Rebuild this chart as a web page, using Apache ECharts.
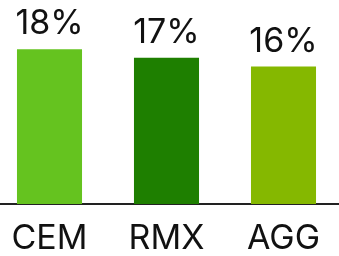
<!DOCTYPE html>
<html>
<head>
  <meta charset="utf-8">
  <script src="https://cdn.jsdelivr.net/npm/echarts@6/dist/echarts.min.js"></script>
  <style>
    html, body { margin: 0; padding: 0; background: #fff; overflow: hidden; }
    #chart { width: 351px; height: 256px; margin-left: -9px; }
  </style>
</head>
<body>
  <div id="chart"></div>
  <script>
    // data
    var categories = ['CEM', 'RMX', 'AGG'];
    var shares = [18, 17, 16];
    var colours = ['#65c31f', '#1e7f00', '#85b800'];

    var chart = echarts.init(document.getElementById('chart'));
    var font = 'Inter, "Open Sans", sans-serif';

    chart.setOption({
      animation: false,
      grid: { left: 0, right: 0, top: 32, bottom: 51, containLabel: false },
      xAxis: {
        type: 'category',
        data: categories,
        axisTick: { show: false },
        axisLine: { lineStyle: { color: '#222', width: 2 } },
        axisLabel: { color: '#111', fontSize: 34, fontFamily: font, margin: 18 }
      },
      yAxis: {
        type: 'value',
        min: 0,
        max: 20,
        show: false
      },
      series: [{
        type: 'bar',
        barWidth: '55.6%',
        data: shares.map(function (v, i) {
          return { value: v, itemStyle: { color: colours[i] } };
        }),
        label: {
          show: true,
          position: 'top',
          distance: 8,
          color: '#111',
          fontSize: 34,
          fontFamily: font,
          formatter: '{c}%'
        }
      }]
    });
  </script>
</body>
</html>
